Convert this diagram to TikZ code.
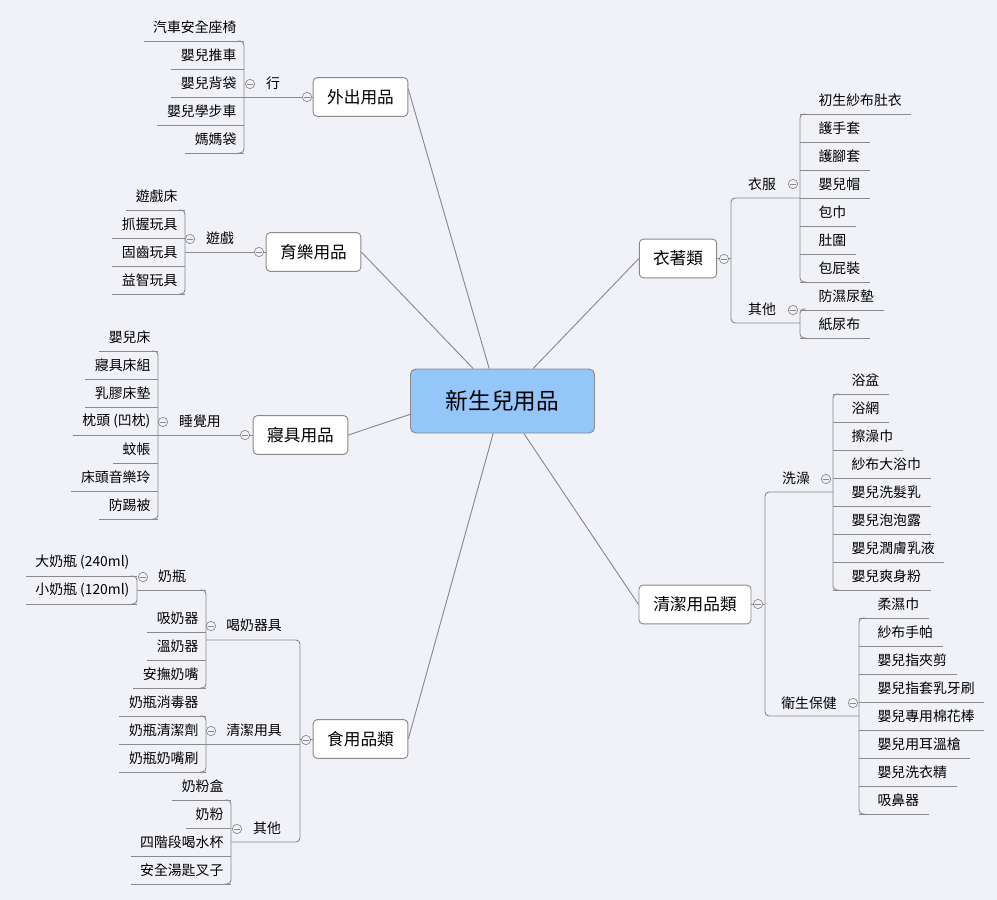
\documentclass[tikz,border=0pt]{standalone}
\usepackage{fontspec}
\setmainfont{Noto Sans CJK TC}
\definecolor{bg}{HTML}{F1F2F8}
\definecolor{ln}{HTML}{8A8A8A}
\definecolor{rootc}{HTML}{94C6FA}
\tikzset{
 lnk/.style={draw=ln,line width=0.7pt},
 leaf/.style={inner sep=1pt,font=\fontsize{10.4}{12}\selectfont},
 lab/.style={inner sep=1pt,font=\fontsize{10.4}{12}\selectfont},
 branch/.style={draw=ln,fill=white,rounded corners=3pt,line width=0.7pt,minimum height=29pt,font=\fontsize{12.5}{14}\selectfont},
 coll/.style={circle,draw=ln,fill=bg,line width=0.5pt,minimum size=7pt,inner sep=0pt,path picture={\draw[ln,line width=0.5pt] (-2pt,0)--(2pt,0);}},
}
% left group: V, name, list
\newcommand\LGrp[3]{%
 \foreach \t/\y [count=\i] in {#3}{%
  \pgfmathsetmacro\u{\y+14}
  \node[leaf,anchor=east] (#2\i) at (#1-6,\y) {\t};
  \draw[lnk] ([xshift=-6pt]#2\i.west |- 0,\u) -- (#1,\u);}}
\newcommand\RGrp[3]{%
 \foreach \t/\y [count=\i] in {#3}{%
  \pgfmathsetmacro\u{\y+14}
  \node[leaf,anchor=west] (#2\i) at (#1+17,\y) {\t};
  \draw[lnk] (#1,\u) -- ([xshift=6pt]#2\i.east |- 0,\u);}}
\newcommand\LV[3]{\draw[lnk,rounded corners=3pt] (#1-6,#2) -- (#1,#2) -- (#1,#3) -- (#1-6,#3);}
\newcommand\RV[3]{\draw[lnk,rounded corners=3pt] (#1+6,#2) -- (#1,#2) -- (#1,#3) -- (#1+6,#3);}
\begin{document}
\begin{tikzpicture}[x=0.75pt,y=-0.75pt]
\fill[bg] (0,0) rectangle (997,900);
\useasboundingbox (0,0) rectangle (997,900);

% root and branches
\node[draw=ln,fill=rootc,rounded corners=4pt,line width=0.7pt,minimum width=138pt,minimum height=48pt,font=\fontsize{17}{20}\selectfont] (root) at (502.5,401) {新生兒用品};
\node[branch,minimum width=71pt] (wc) at (360.5,97) {外出用品};
\node[branch,minimum width=71pt] (yl) at (313.5,252) {育樂用品};
\node[branch,minimum width=71pt] (qj) at (300.5,435) {寢具用品};
\node[branch,minimum width=71pt] (sy) at (360.5,739) {食用品類};
\node[branch,minimum width=58pt] (yz) at (678,258.5) {衣著類};
\node[branch,minimum width=84pt] (qc) at (695,604.5) {清潔用品類};

\draw[lnk] (wc.east) ++(0,-8) -- ([xshift=-10pt]root.north);
\draw[lnk] (yl.east) -- ([xshift=-22pt]root.north);
\draw[lnk] (qj.east) -- ([yshift=-10pt]root.west);
\draw[lnk] (sy.east) -- ([xshift=-7pt]root.south);
\draw[lnk] (yz.west) -- ([xshift=23pt]root.north);
\draw[lnk] (qc.west) -- ([xshift=16pt]root.south);

% 外出用品
\draw[lnk] (wc.west) -- (244,97);
\node[lab] (l1) at (273,83) {行};
\LGrp{244}{a}{汽車安全座椅/27,嬰兒推車/55,嬰兒背袋/83,嬰兒學步車/111,媽媽袋/139}
\LV{244}{41}{153}
\node[coll] (c1) at (250,84) {};
\node[coll] (c2) at (307,97) {};

% 育樂用品
\draw[lnk] (yl.west) -- (185,252);
\node[lab] (l2) at (220,238) {遊戲};
\LGrp{185}{b}{遊戲床/196,抓握玩具/224,固齒玩具/252,益智玩具/280}
\LV{185}{210}{294}
\node[coll] (c3) at (190,239) {};
\node[coll] (c4) at (259,252) {};

% 寢具用品
\draw[lnk] (qj.west) -- (158,435);
\node[lab] (l3) at (200,421) {睡覺用};
\LGrp{158}{c}{嬰兒床/337,寢具床組/365,乳膠床墊/393,枕頭 (凹枕)/421,蚊帳/449,床頭音樂玲/477,防踢被/505}
\LV{158}{351}{519}
\node[coll] (c5) at (163,422) {};
\node[coll] (c6) at (245,435) {};

% 食用品類
\draw[lnk] (sy.west) -- (300,739);
\draw[lnk,rounded corners=3pt] (206,640) -- (300,640) -- (300,842) -- (231,842);
\draw[lnk] (206,744) -- (300,744);
\node[lab] (l4) at (254,625) {喝奶器具};
\node[lab] (l5) at (254,730) {清潔用具};
\node[lab] (l6) at (267,828) {其他};
\node[coll] (c7) at (306,740) {};
\node[coll] (c8) at (211,626) {};
\node[coll] (c9) at (211,731) {};
\node[coll] (c10) at (237,829) {};
% 喝奶器具
\draw[lnk] (137,590) -- (206,590);
\node[lab] (l7) at (172,576) {奶瓶};
\LGrp{206}{d}{吸奶器/618,溫奶器/646,安撫奶嘴/674}
\draw[lnk,rounded corners=3pt] (200,590) -- (206,590) -- (206,688) -- (200,688);
\LGrp{137}{e}{大奶瓶 (240ml)/562,小奶瓶 (120ml)/590}
\LV{137}{576}{604}
\node[coll] (c11) at (143,577) {};
% 清潔用具
\LGrp{206}{f}{奶瓶消毒器/702,奶瓶清潔劑/730,奶瓶奶嘴刷/758}
\LV{206}{716}{772}
% 其他
\LGrp{231}{g}{奶粉盒/786,奶粉/814,四階段喝水杯/842,安全湯匙叉子/870}
\LV{231}{800}{884}

% 衣著類
\draw[lnk] (yz.east) -- (731,258.5);
\draw[lnk,rounded corners=3pt] (800,198) -- (731,198) -- (731,323) -- (800,323);
\node[lab] (l8) at (762,184) {衣服};
\node[lab] (l9) at (762,309) {其他};
\node[coll] (c12) at (724,259) {};
\node[coll] (c13) at (793,184) {};
\node[coll] (c14) at (793,310) {};
\RGrp{800}{h}{初生紗布肚衣/100,護手套/128,護腳套/156,嬰兒帽/184,包巾/212,肚圍/240,包屁裝/268}
\RV{800}{114}{282}
\RGrp{800}{i}{防濕尿墊/296,紙尿布/324}
\RV{800}{309}{338}

% 清潔用品類
\draw[lnk] (qc.east) -- (765,604.5);
\draw[lnk,rounded corners=3pt] (833,492) -- (765,492) -- (765,716) -- (859,716);
\node[lab] (l10) at (796,478) {洗澡};
\node[lab] (l11) at (809,703) {衛生保健};
\node[coll] (c15) at (758,604) {};
\node[coll] (c16) at (826,479) {};
\node[coll] (c17) at (853,703) {};
\RGrp{833}{j}{浴盆/380,浴網/408,擦澡巾/436,紗布大浴巾/464,嬰兒洗髮乳/492,嬰兒泡泡露/520,嬰兒潤膚乳液/548,嬰兒爽身粉/576}
\RV{833}{394}{590}
\RGrp{859}{k}{柔濕巾/604,紗布手帕/632,嬰兒指夾剪/660,嬰兒指套乳牙刷/688,嬰兒專用棉花棒/716,嬰兒用耳溫槍/744,嬰兒洗衣精/772,吸鼻器/800}
\RV{859}{618}{814}
\end{tikzpicture}
\end{document}
